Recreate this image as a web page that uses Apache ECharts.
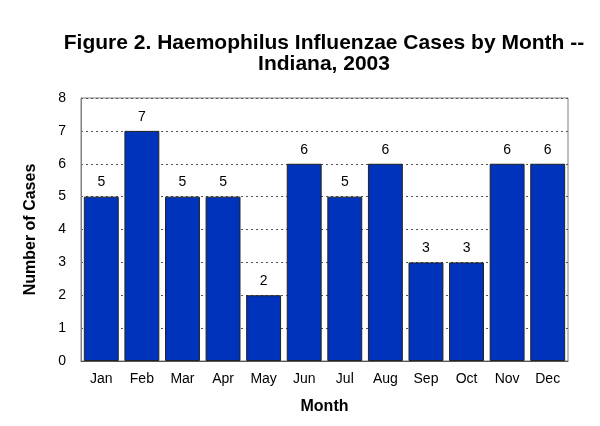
<!DOCTYPE html>
<html>
<head>
<meta charset="utf-8">
<script src="https://cdn.jsdelivr.net/npm/echarts@6/dist/echarts.min.js"></script>
<style>
  html, body { margin: 0; padding: 0; background: #fff; }
  #main { width: 600px; height: 426px; }
</style>
</head>
<body>
<div id="main"></div>
<script>
// chart data
const months = ["Jan", "Feb", "Mar", "Apr", "May", "Jun", "Jul", "Aug", "Sep", "Oct", "Nov", "Dec"];
const cases = [5, 7, 5, 5, 2, 6, 5, 6, 3, 3, 6, 6];

const font = "Liberation Sans, Arial, sans-serif";

let myChart = echarts.init(document.getElementById("main"));

let options = {
  animation: false,
  title: {
    text: "Figure 2. Haemophilus Influenzae Cases by Month --\nIndiana, 2003",
    left: 319,
    textAlign: "center",
    top: 28,
    textStyle: { fontFamily: font, fontSize: 21, fontWeight: "bold", color: "#000", lineHeight: 21 }
  },
  grid: { left: 81, right: 32, top: 98, bottom: 65, show: true, borderColor: "#808080", borderWidth: 1 },
  xAxis: {
    type: "category",
    data: months,
    name: "Month",
    nameLocation: "middle",
    nameGap: 38,
    nameTextStyle: { fontFamily: font, fontSize: 16, fontWeight: "bold", color: "#000" },
    axisLine: { lineStyle: { color: "#555", width: 1 } },
    axisTick: { show: false },
    axisLabel: { fontFamily: font, fontSize: 14, color: "#000", margin: 11 }
  },
  yAxis: {
    type: "value",
    min: 0,
    max: 8,
    interval: 1,
    name: "Number of Cases",
    nameLocation: "middle",
    nameGap: 42,
    nameTextStyle: { fontFamily: font, fontSize: 16, fontWeight: "bold", color: "#000" },
    axisLine: { show: true, lineStyle: { color: "#808080" } },
    axisTick: { show: false },
    axisLabel: { fontFamily: font, fontSize: 14, color: "#000", margin: 15 },
    splitLine: { lineStyle: { color: "#555", type: [2, 3], width: 1 } }
  },
  series: [
    {
      name: "Cases",
      type: "bar",
      data: cases,
      barCategoryGap: "14%",
      itemStyle: { color: "#0033BB", borderColor: "#222", borderWidth: 1 },
      label: { show: true, position: "top", distance: 7, fontFamily: font, fontSize: 14, color: "#000" }
    }
  ]
};

myChart.setOption(options);
</script>
</body>
</html>
